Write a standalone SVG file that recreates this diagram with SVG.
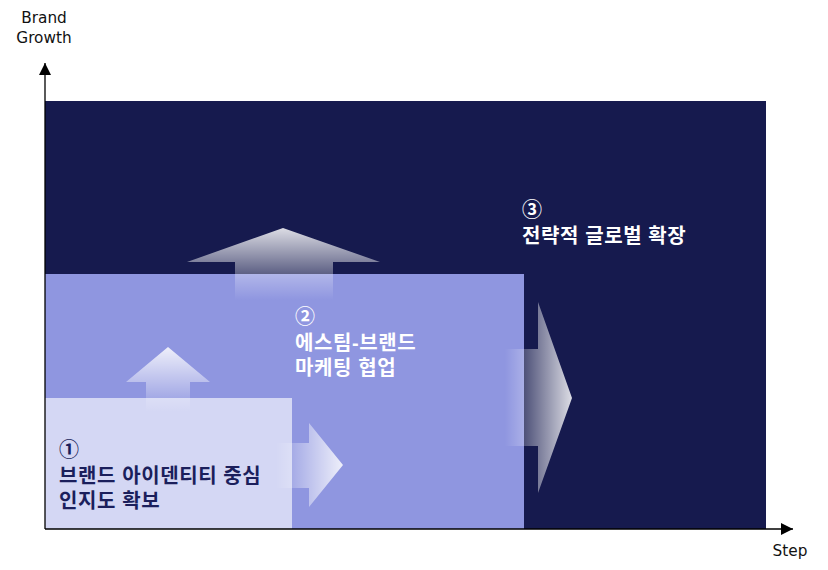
<svg xmlns="http://www.w3.org/2000/svg" width="828" height="570" viewBox="0 0 828 570">
<style>
.axis{stroke:#000;stroke-width:1.3;fill:none}
.axlbl{font-family:"DejaVu Sans",sans-serif;font-size:15.3px;fill:#111;text-anchor:middle}
.lbl{font-family:"Liberation Sans","Noto Sans CJK KR",sans-serif;font-size:20px;font-weight:700;letter-spacing:0.6px}
.dark{fill:#1b1f5c}
.white{fill:#ffffff}
</style>
<defs>
<linearGradient id="gUp" x1="0" y1="0" x2="0" y2="1">
<stop offset="0" stop-color="#fff" stop-opacity="0.85"/>
<stop offset="1" stop-color="#fff" stop-opacity="0"/>
</linearGradient>
<linearGradient id="gRight" x1="1" y1="0" x2="0" y2="0">
<stop offset="0" stop-color="#fff" stop-opacity="0.85"/>
<stop offset="1" stop-color="#fff" stop-opacity="0"/>
</linearGradient>
<marker id="ah" viewBox="0 0 12 12" refX="12" refY="6" markerWidth="12" markerHeight="12" markerUnits="userSpaceOnUse" orient="auto">
<path d="M0,0 L12,6 L0,12 Z" fill="#000"/>
</marker>
</defs>
<g id="node-3">
<rect x="45" y="101" width="721" height="428" fill="#161a4e"/>
<text class="lbl white"><tspan x="522" y="217">③</tspan><tspan x="522" y="243">전략적 글로벌 확장</tspan></text>
</g>
<g id="node-2">
<rect x="45" y="274" width="479" height="255" fill="#8f96e0"/>
<text class="lbl white"><tspan x="295" y="324">②</tspan><tspan x="295" y="350">에스팀-브랜드</tspan><tspan x="295" y="375">마케팅 협업</tspan></text>
</g>
<g id="node-1">
<rect x="45" y="398" width="247" height="131" fill="#d4d7f4"/>
<text class="lbl dark"><tspan x="59" y="457">①</tspan><tspan x="59" y="483">브랜드 아이덴티티 중심</tspan><tspan x="59" y="508">인지도 확보</tspan></text>
</g>
<g id="connectors">
<path d="M283,228 L380,262 L333,262 L333,300 L235,300 L235,262 L187,262 Z" fill="url(#gUp)"/>
<path d="M572,398 L538,493 L538,446 L505,446 L505,349 L538,349 L538,302 Z" fill="url(#gRight)"/>
<path d="M168,347 L210,382 L190,382 L190,412 L146,412 L146,382 L126,382 Z" fill="url(#gUp)"/>
<path d="M343,465 L309,507 L309,488 L276,488 L276,443 L309,443 L309,423 Z" fill="url(#gRight)"/>
</g>
<g id="axes">
<line class="axis" x1="45" y1="529" x2="45" y2="63" marker-end="url(#ah)"/>
<line class="axis" x1="45" y1="529" x2="793" y2="529" marker-end="url(#ah)"/>
<text class="axlbl"><tspan x="44" y="23">Brand</tspan><tspan x="44" y="43">Growth</tspan></text>
<text class="axlbl" x="790" y="556">Step</text>
</g>
</svg>
